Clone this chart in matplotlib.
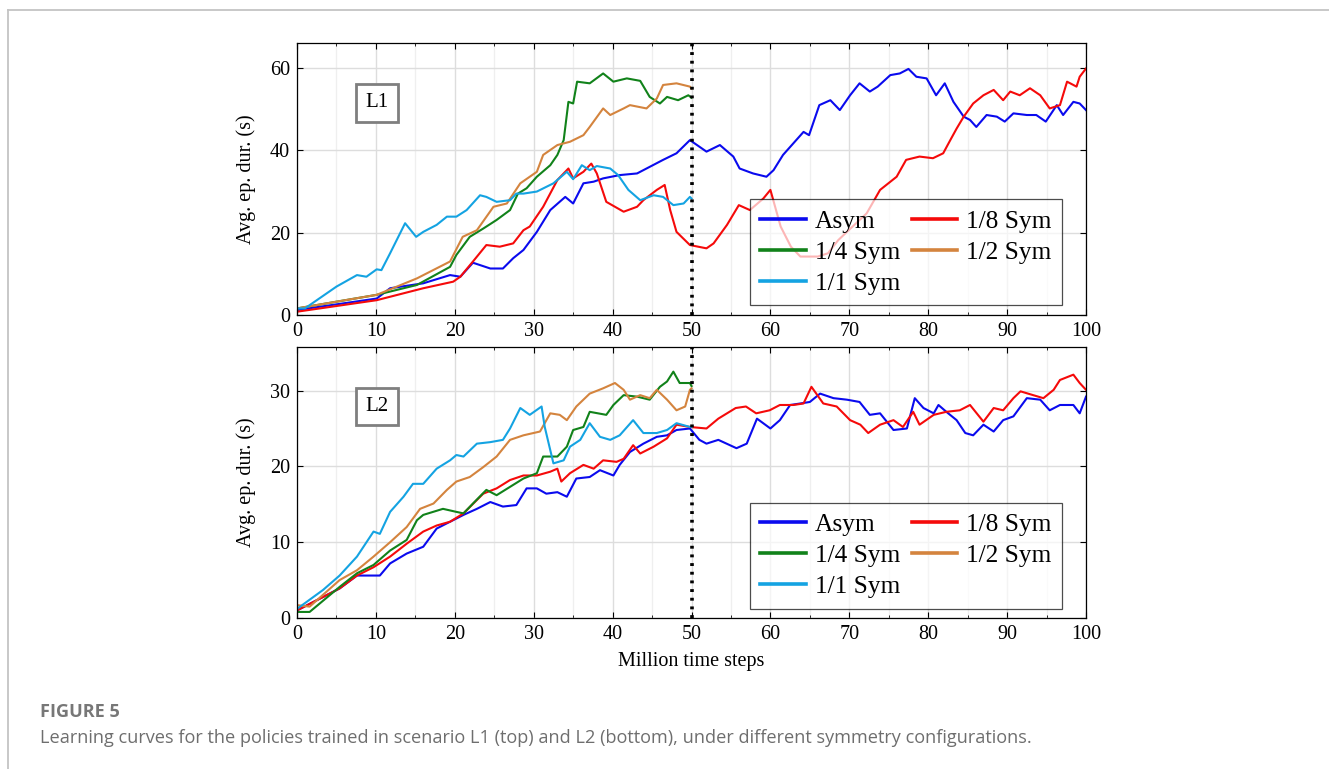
import matplotlib.pyplot as plt
from matplotlib.lines import Line2D
from matplotlib.ticker import MultipleLocator

# ---- data: scenario L1 (top) ----
asym1_x = [0, 10.1, 11.8, 16, 19.4, 20.7, 22.3, 24.5, 26.1, 27.4, 28.7, 30.4, 32.1, 34, 35, 36.3, 37.6, 38.8, 40.9, 43.1,
           44.7, 46.4, 48.1, 49.8, 51.9, 53.6, 55.3, 56.1, 57.8, 59.5, 60.4, 61.6, 62.9, 64.2, 64.9, 66.2, 67.6, 68.8, 70.1, 71.3,
           72.6, 73.6, 75.2, 76.4, 77.5, 78.5, 79.8, 81, 82.1, 83.2, 84.5, 85.3, 86.1, 87.4, 88.7, 89.7, 90.8, 92.5, 93.7, 94.9,
           96.3, 97.1, 98.4, 99.2, 100]
asym1_y = [1.2, 4, 6.5, 7.7, 9.7, 9.3, 12.7, 11.3, 11.3, 13.8, 15.8, 20.2, 25.5, 28.7, 27.1, 32, 32.4, 33.2, 34, 34.4,
           36, 37.7, 39.3, 42.5, 39.7, 41.3, 38.5, 35.6, 34.4, 33.6, 35.2, 38.9, 41.7, 44.5, 43.7, 51, 52.2, 49.8, 53.4, 56.3,
           54.3, 55.5, 58.3, 58.7, 59.8, 57.9, 57.5, 53.4, 56.3, 51.8, 48.2, 47.4, 45.7, 48.6, 48.2, 47, 49, 48.6, 48.6, 47,
           51, 48.6, 51.8, 51.4, 49.8]

sym8_1_x = [0, 10.1, 16, 19.8, 20.7, 22.3, 24.0, 25.7, 27.4, 28.7, 29.5, 31.2, 33, 34.4, 35, 36.3, 37.3, 38, 39.2, 41.4,
            43.1, 43.9, 45.6, 46.6, 47.3, 48.1, 49.8, 51.9, 52.8, 54.5, 56, 57.4, 59.1, 60, 61.3, 62.6, 63.8, 66, 67.3, 68.6,
            69.7, 72.2, 73.9, 76, 77.2, 78.9, 80.6, 81.9, 82.8, 83.6, 84.5, 85.7, 87, 88.3, 89.5, 90.4, 91.6, 92.9, 94.2, 95.4,
            96.7, 97.6, 98.8, 99.2, 100]
sym8_1_y = [0.8, 3.6, 6.5, 8.1, 9.3, 13, 17, 16.6, 17.4, 20.6, 21.5, 26.3, 32.8, 35.6, 33.2, 34.8, 36.8, 34.4, 27.5, 25.1,
            26.3, 27.9, 30.4, 31.6, 25.5, 20.2, 17, 16.2, 17.4, 21.9, 26.7, 25.5, 28.3, 30.4, 21.5, 16.6, 14.2, 14.2, 15, 18.2,
            20.2, 24.7, 30.4, 33.6, 37.7, 38.5, 38.1, 39.3, 42.5, 45.3, 48.2, 51.4, 53.4, 54.7, 52.2, 54.3, 53.4, 55.1, 53.4, 50.2,
            51, 56.7, 55.5, 57.9, 59.9]

sym4_1_x = [0, 10.1, 15.2, 19.4, 20.2, 21.9, 23.6, 25.3, 27, 28, 29.1, 30.4, 32.1, 33, 33.8, 34.4, 35, 35.5, 37.1, 38.8,
            40.1, 41.8, 43.5, 44.7, 46, 46.9, 48.3, 49.6, 50]
sym4_1_y = [1.6, 4.9, 7.3, 11.7, 14.6, 19, 21, 23.1, 25.5, 29.5, 30.8, 33.6, 36.4, 38.9, 42.5, 51.8, 51.4, 56.7, 56.3, 58.7,
            56.7, 57.5, 56.9, 53, 51.4, 53, 52.2, 53.4, 52.8]

sym2_1_x = [0, 10.1, 15.2, 19.4, 21, 22.8, 24.9, 26.6, 28.3, 30.4, 31.2, 33, 34.6, 36.3, 37.1, 38.8, 39.7, 41.4, 42.2, 44.3,
            45.6, 46.4, 48.1, 49.8, 50]
sym2_1_y = [1.6, 4.9, 8.9, 13, 19, 20.6, 26.3, 27.1, 32, 34.8, 38.9, 41.3, 42.1, 43.7, 45.7, 50.2, 48.6, 50.2, 51, 50.2,
            52.6, 55.9, 56.3, 55.5, 55]

sym1_1_x = [0, 1, 5, 7.6, 8.8, 10.1, 10.7, 11.8, 13.7, 15.1, 16, 17.7, 19, 20.2, 21.5, 23.2, 24, 25.3, 27, 27.8, 28.7,
            30.4, 32.5, 34.2, 35, 36.1, 37.1, 38, 39.7, 40.7, 42, 43.5, 45.2, 46.4, 47.7, 49, 49.8, 50]
sym1_1_y = [1.6, 1.6, 6.9, 9.7, 9.3, 11.1, 10.9, 15, 22.3, 19, 20.2, 21.9, 23.9, 23.9, 25.5, 29.1, 28.7, 27.5, 27.9, 29.5, 29.5,
            30, 32, 34.8, 33, 36.4, 35.2, 36.2, 35.6, 34, 30.4, 27.9, 29.1, 28.7, 26.7, 27.1, 28.7, 28.3]

# ---- data: scenario L2 (bottom) ----
asym2_x = [0, 5.4, 7.6, 10.5, 11.8, 13.9, 16, 17.7, 19.4, 21.1, 22.8, 24.5, 26.1, 27.8, 29.1, 30.4, 31.6, 33, 34.2, 35.4,
           37.1, 38.4, 40.1, 40.9, 42.2, 43.9, 45.6, 46.9, 48.1, 49.8, 51, 51.9, 53.4, 55.7, 57, 58.3, 60, 61.2, 62.5, 63.8,
           65, 66.3, 68, 69.7, 71.3, 72.6, 73.9, 75.6, 77.3, 78.3, 79.4, 80.7, 81.3, 82.3, 83.6, 84.7, 85.7, 87, 88.3, 89.5,
           90.8, 92.5, 94.2, 95.4, 96.7, 98.4, 99.2, 100]
asym2_y = [1, 3.9, 5.6, 5.6, 7.2, 8.5, 9.4, 11.8, 12.7, 13.6, 14.4, 15.3, 14.7, 14.9, 17.1, 17.1, 16.4, 16.6, 16, 18.4,
           18.6, 19.5, 18.8, 20.2, 21.9, 23, 23.9, 24.1, 24.8, 25, 23.5, 23, 23.5, 22.4, 23, 26.3, 25, 26.1, 28.1, 28.3,
           28.5, 29.6, 29, 28.8, 28.5, 26.8, 27, 24.8, 25, 29, 27.7, 27, 28.1, 27.2, 26.1, 24.4, 24.1, 25.5, 24.6, 26.1,
           26.6, 29, 28.8, 27.4, 28.1, 28.1, 27, 29.2]

sym8_2_x = [0, 5.4, 7.6, 9.7, 11.8, 13.9, 16, 17.7, 19.4, 21.1, 23.6, 25.3, 27, 28.7, 30.4, 32.1, 33, 33.5, 34.6, 36.3,
            37.6, 38.8, 40.5, 41.4, 42.6, 43.5, 45.2, 46.9, 48.1, 49.8, 51.9, 53.4, 55.6, 56.9, 58.2, 59.9, 61.2, 62.9, 64.2, 65.2,
            66.7, 68.4, 70.1, 71.4, 72.4, 73.9, 75.6, 76.8, 78.1, 78.9, 80.7, 82.3, 84, 85.3, 87, 88.3, 89.5, 90.8, 91.7, 93.3,
            94.6, 95.9, 96.7, 98.4, 99.2, 100]
sym8_2_y = [1, 3.9, 5.6, 6.7, 8.1, 9.8, 11.4, 12.2, 12.7, 13.8, 16.4, 17.1, 18.2, 18.8, 18.8, 19.3, 19.7, 18, 19.1, 20.2,
            19.7, 20.8, 20.6, 21, 22.8, 21.7, 22.6, 23.7, 25.5, 25.2, 25, 26.3, 27.7, 27.9, 27, 27.4, 28.1, 28.1, 28.3, 30.5,
            28.3, 27.9, 26.1, 25.5, 24.4, 25.5, 26.1, 25.2, 27.2, 25.5, 26.8, 27.2, 27.4, 28.1, 25.9, 27.7, 27.4, 29, 29.9, 29.4,
            29, 30.1, 31.4, 32.1, 31, 30.1]

sym4_2_x = [0, 1.6, 5.4, 7.6, 9.7, 11.8, 13.9, 15.2, 16, 18.5, 20.2, 21.1, 22.3, 24.0, 25.3, 27, 28.7, 30.4, 31.2, 33,
            34.2, 35, 36.3, 37.1, 39.2, 40.1, 41.4, 43.1, 44.7, 46, 46.9, 47.7, 48.5, 49.8, 50]
sym4_2_y = [0.8, 0.8, 4.1, 5.9, 7, 8.9, 10.3, 12.9, 13.6, 14.4, 14, 13.8, 15.1, 16.9, 16.2, 17.3, 18.4, 19.1, 21.3, 21.3,
            22.6, 24.8, 25.2, 27.2, 26.8, 28.1, 29.4, 29.2, 28.8, 30.5, 31.2, 32.5, 31, 31, 30.6]

sym2_2_x = [0, 1.6, 5.4, 7.6, 9.7, 11.8, 13.9, 15.6, 17.3, 19, 20.2, 21.9, 23.6, 25.3, 27, 28.7, 30.8, 32.1, 33.3, 34.2,
            35.4, 37.1, 38.8, 40.3, 41.4, 42.2, 43.5, 44.7, 45.6, 46.9, 48.1, 49.2, 49.8, 50]
sym2_2_y = [1.7, 1.5, 5, 6.3, 8.1, 10, 12, 14.4, 15.1, 16.9, 18, 18.6, 19.9, 21.3, 23.5, 24.1, 24.6, 27, 26.8, 26.1,
            27.9, 29.6, 30.3, 31, 30.1, 28.8, 29.4, 29, 30.1, 28.8, 27.4, 27.9, 30.1, 30.3]

sym1_2_x = [0, 3.3, 5.4, 7.6, 9.7, 10.5, 11.8, 13.5, 14.7, 16, 17.7, 19.4, 20.2, 21.1, 22.8, 24.5, 26.1, 27, 28.3, 29.5,
            31, 31.4, 32.5, 33.8, 34.6, 35.9, 37.1, 38.4, 39.7, 40.9, 42.6, 43.9, 45.6, 46.9, 48.1, 49.8, 50]
sym1_2_y = [1.2, 3.7, 5.6, 8.1, 11.4, 11.1, 14, 16, 17.7, 17.7, 19.7, 20.8, 21.5, 21.3, 23, 23.2, 23.5, 25, 27.7, 26.8,
            27.9, 25.2, 20.4, 20.8, 22.6, 23.5, 25.7, 23.9, 23.5, 24.1, 26.1, 24.4, 24.4, 24.8, 25.7, 25.2, 25.2]

labels = ["Asym", "1/8 Sym", "1/4 Sym", "1/2 Sym", "1/1 Sym"]
colors = ["#0a0aee", "#f50a0a", "#11821a", "#d4843e", "#14a3e2"]
switch_step = 50

plt.rcParams['font.family'] = ['Liberation Serif', 'DejaVu Serif']
plt.rcParams['mathtext.fontset'] = 'stix'

fig = plt.figure(figsize=(13.29, 7.69), dpi=100)

# outer frame of the figure card
fig.add_artist(Line2D([8 / 1329, 1], [1 - 10 / 769, 1 - 10 / 769], color="#c4c4c4", lw=1.3))
fig.add_artist(Line2D([8 / 1329, 8 / 1329], [0, 1 - 10 / 769], color="#c4c4c4", lw=1.3))

ax1 = fig.add_axes([297 / 1329, 1 - 315 / 769, 789 / 1329, 272 / 769])
ax2 = fig.add_axes([297 / 1329, 1 - 618 / 769, 789 / 1329, 271 / 769])

panels = [
    (ax1, [(asym1_x, asym1_y), (sym8_1_x, sym8_1_y), (sym4_1_x, sym4_1_y), (sym2_1_x, sym2_1_y), (sym1_1_x, sym1_1_y)],
     66.1, 20, "L1"),
    (ax2, [(asym2_x, asym2_y), (sym8_2_x, sym8_2_y), (sym4_2_x, sym4_2_y), (sym2_2_x, sym2_2_y), (sym1_2_x, sym1_2_y)],
     35.75, 10, "L2"),
]

for ax, series, ytop, ystep, tag in panels:
    lines = []
    for (xs, ys), lab, col in zip(series, labels, colors):
        ln, = ax.plot(xs, ys, color=col, lw=1.5, label=lab)
        lines.append(ln)
    ax.axvline(switch_step, color="black", lw=2.6, ls=(0, (0.8, 1.6)), zorder=6)

    ax.set_xlim(0, 100)
    ax.set_ylim(0, ytop)
    ax.xaxis.set_major_locator(MultipleLocator(10))
    ax.xaxis.set_minor_locator(MultipleLocator(5))
    ax.yaxis.set_major_locator(MultipleLocator(ystep))
    ax.grid(which="major", color="#dddddd", lw=1.0)
    ax.grid(which="minor", axis="x", color="#efefef", lw=0.9)
    ax.set_axisbelow(True)
    ax.tick_params(which="both", direction="in", top=True, right=True, labelsize=14.5, pad=5)
    ax.tick_params(which="major", length=4, width=0.8)
    ax.tick_params(which="minor", length=2.5, width=0.6)
    for sp in ax.spines.values():
        sp.set_linewidth(0.9)
    ax.set_ylabel("Avg. ep. dur. (s)", fontsize=14.5, labelpad=10)

    ax.text(0.101, 0.78, tag, transform=ax.transAxes, fontsize=15, ha="center", va="center",
            bbox=dict(boxstyle="square,pad=0.45", fc="white", ec="#7f7f7f", lw=2))

    # pgfplots-like row-wise legend: reorder for matplotlib column filling
    order = [0, 2, 4, 1, 3]
    leg = ax.legend([lines[i] for i in order], [labels[i] for i in order], ncol=2,
                    loc="lower right", bbox_to_anchor=(0.97, 0.035), borderaxespad=0,
                    fontsize=18.3, handlelength=1.8, handletextpad=0.35, columnspacing=0.45,
                    labelspacing=0.32, borderpad=0.42, fancybox=False, framealpha=0.7,
                    edgecolor="black")
    leg.get_frame().set_linewidth(0.9)
    for h in leg.get_lines():
        h.set_linewidth(2.6)

ax2.set_xlabel("Million time steps", fontsize=14.5, labelpad=6)

fig.text(40 / 1329, 1 - 712 / 769, "FIGURE 5", fontsize=13.1, fontweight="bold", color="#777777",
         family=["Open Sans", "DejaVu Sans"], va="center", ha="left")
fig.text(40 / 1329, 1 - 738 / 769,
         "Learning curves for the policies trained in scenario L1 (top) and L2 (bottom), under different symmetry configurations.",
         fontsize=13.1, color="#6e6e6e", family=["Open Sans", "DejaVu Sans"], va="center", ha="left")

fig.savefig("out.png", dpi=100)
